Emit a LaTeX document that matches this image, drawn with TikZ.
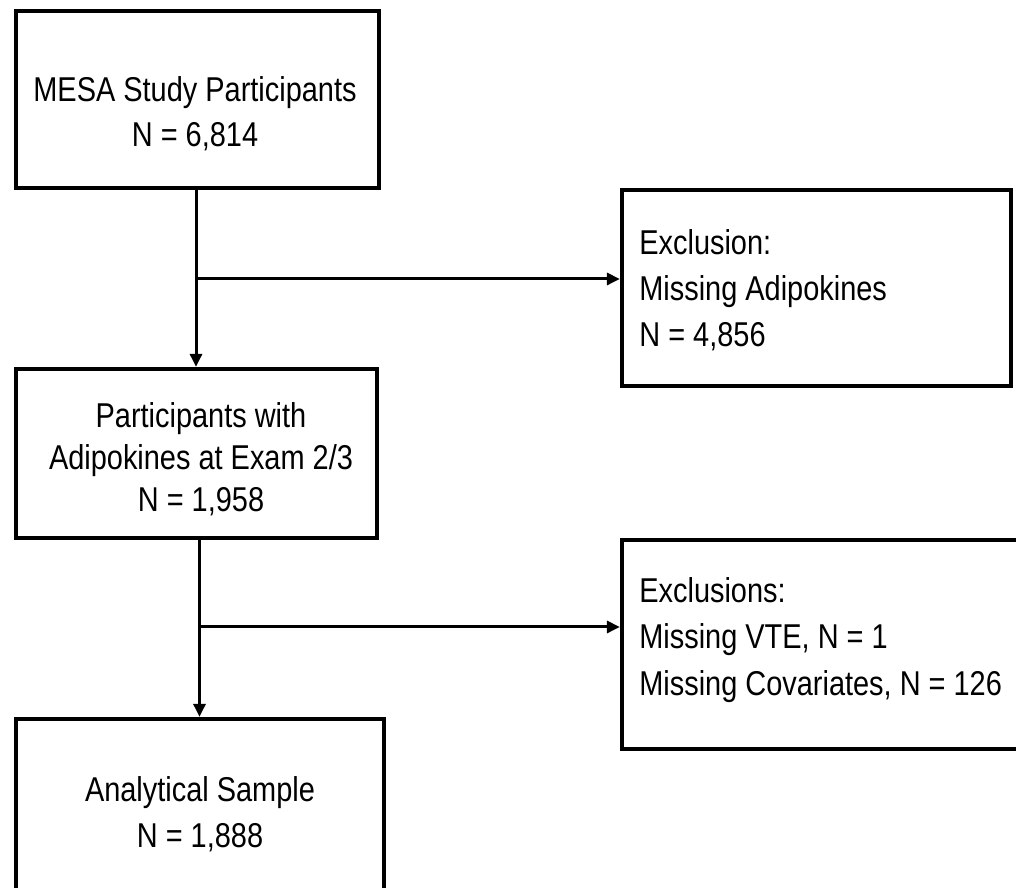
\documentclass[tikz,border=0pt]{standalone}
\usepackage{fontspec}
\setmainfont{Liberation Sans}[FakeStretch=0.84]
\usetikzlibrary{arrows.meta}

\begin{document}
\begin{tikzpicture}[
		font=\fontsize{19.6}{24}\selectfont,
		box/.style={draw, line width=0.085cm, inner sep=0pt},
		txt/.style={inner sep=0pt, anchor=base},
		txtl/.style={inner sep=0pt, anchor=base west},
		flow/.style={line width=0.06cm, -{Triangle[length=0.26cm, width=0.24cm]}}
	]
		\useasboundingbox (0, 0) rectangle (20.32, 17.76);

		\node[box, minimum width=7.26cm, minimum height=3.54cm] at (3.95, 15.77) (mesa) {};
		\node[txt] at (3.90, 15.72) (mesa1) {MESA Study Participants};
		\node[txt] at (3.90, 14.82) (mesa2) {N = 6,814};

		\node[box, minimum width=7.22cm, minimum height=3.38cm] at (3.93, 8.69) (adipo) {};
		\node[txt] at (4.02, 9.20) (adipo1) {Participants with};
		\node[txt] at (4.02, 8.36) (adipo2) {Adipokines at Exam 2/3};
		\node[txt] at (4.02, 7.52) (adipo3) {N = 1,958};

		\node[box, minimum width=7.36cm, minimum height=3.72cm] at (4.00, 1.52) (sample) {};
		\node[txt] at (4.00, 1.72) (sample1) {Analytical Sample};
		\node[txt] at (4.00, 0.80) (sample2) {N = 1,888};

		\node[box, minimum width=7.78cm, minimum height=3.92cm] at (16.33, 12.00) (excl) {};
		\node[txtl] at (12.78, 12.66) (excl1) {Exclusion:};
		\node[txtl] at (12.78, 11.74) (excl2) {Missing Adipokines};
		\node[txtl] at (12.78, 10.82) (excl3) {N = 4,856};

		\node[box, minimum width=8.36cm, minimum height=4.18cm] at (16.62, 4.87) (excls) {};
		\node[txtl] at (12.78, 5.70) (excls1) {Exclusions:};
		\node[txtl] at (12.78, 4.78) (excls2) {Missing VTE, N = 1};
		\node[txtl] at (12.78, 3.84) (excls3) {Missing Covariates, N = 126};

		\coordinate (j1) at (3.92, 12.18);
		\coordinate (j2) at (3.99, 5.22);

		\draw[flow] (j1 |- mesa.south) -- (j1 |- adipo.north);
		\draw[flow] (j1) -- (j1 -| excl.west);
		\draw[flow] (j2 |- adipo.south) -- (j2 |- sample.north);
		\draw[flow] (j2) -- (j2 -| excls.west);
	\end{tikzpicture}
\end{document}
